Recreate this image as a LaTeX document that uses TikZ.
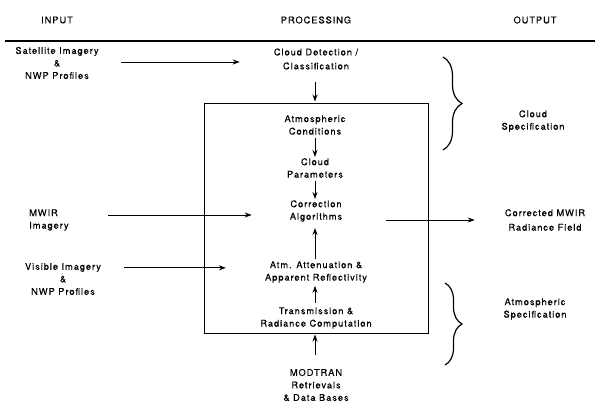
\documentclass[tikz,border=0pt]{standalone}
\usepackage{fontspec}
\setmainfont{TeX Gyre Heros}[LetterSpace=10,FakeBold=0.3]
\usetikzlibrary{arrows.meta,decorations.pathreplacing}
\begin{document}
\begin{tikzpicture}[x=1pt,y=-1pt,
  lbl/.style={align=center,inner sep=0pt,font=\fontsize{9.3}{12.5}\selectfont},
  arr/.style={-{Stealth[length=7pt,width=5pt]},line width=0.9pt},
  brc/.style={decorate,line width=1.2pt},
]
\useasboundingbox (0,0) rectangle (595,402);
% headers
\node[lbl] (hin) at (57,20) {INPUT};
\node[lbl] (hproc) at (316,20) {PROCESSING};
\node[lbl] (hout) at (535,20) {OUTPUT};
\coordinate (rl) at (5,41);
\coordinate (rr) at (595,41);
\draw[line width=1.1pt] (rl) -- (rr);
% input
\node[lbl] (sat) at (57,63) {Satellite Imagery\\\&\\NWP Profiles};
\node[lbl,align=left,anchor=west] (mwir) at (29,220) {MWIR\\Imagery};
\node[lbl] (vis) at (63,279) {Visible Imagery\\\&\\NWP Profiles};
% processing
\node[lbl] (cdc) at (316,59) {Cloud Detection /\\[1.5pt]Classification};
\node[draw,line width=1pt,minimum width=224pt,minimum height=230pt,inner sep=0pt] (box) at (316,218) {};
\node[lbl] (atm) at (315,125) {Atmospheric\\Conditions};
\node[lbl] (cp) at (315,168) {Cloud\\Parameters};
\node[lbl] (ca) at (316,211) {Correction\\Algorithms};
\node[lbl] (aa) at (316,272) {Atm. Attenuation \&\\Apparent Reflectivity};
\node[lbl] (tr) at (316,318) {Transmission \&\\Radiance Computation};
\node[lbl] (mod) at (316,385) {MODTRAN\\Retrievals\\\& Data Bases};
% output
\node[lbl] (cs) at (533,121) {Cloud\\Specification};
\node[lbl] (cm) at (545,220) {Corrected MWIR\\[2pt]Radiance Field};
\node[lbl] (as) at (535,309) {Atmospheric\\Specification};
% arrows
\draw[arr,shorten <=22pt,shorten >=34pt] ([yshift=1pt]sat.east) -- ([yshift=1pt]sat.east -| cdc.west);
\draw[arr,shorten <=12pt,shorten >=1pt] ([xshift=-1pt]cdc.south) -- ([xshift=-1pt]cdc.south |- box.north);
\draw[arr,shorten <=3pt,shorten >=1pt] (atm.south) -- (cp.north);
\draw[arr,shorten <=3pt,shorten >=1pt] (cp.south) -- (cp.south |- ca.north);
\draw[arr,shorten <=2pt,shorten >=6pt] ([xshift=-1pt]aa.north) -- ([xshift=-1pt]aa.north |- ca.south);
\draw[arr,shorten <=4pt,shorten >=3pt] ([xshift=-1pt]tr.north) -- ([xshift=-1pt]tr.north |- aa.south);
\draw[arr,shorten <=14pt,shorten >=1pt] ([xshift=-1pt]mod.north) -- ([xshift=-1pt]mod.north |- box.south);
\draw[arr,shorten <=39pt,shorten >=38pt] ([yshift=5pt]mwir.east) -- ([yshift=5pt]mwir.east -| ca.west);
\draw[arr,shorten <=23pt,shorten >=39pt] ([yshift=-5pt]vis.north east) -- ([yshift=-5pt]vis.north east -| aa.west);
\draw[arr,shorten <=44pt,shorten >=30pt] (ca.east |- cm.west) -- (cm.west);
% braces
\coordinate (b1t) at (443,57);
\coordinate (b1b) at (443,150);
\coordinate (b2t) at (445,283);
\coordinate (b2b) at (445,365);
\draw[brc,decoration={brace,amplitude=19pt}] (b1t) -- (b1b);
\draw[brc,decoration={brace,amplitude=17pt}] (b2t) -- (b2b);
\end{tikzpicture}
\end{document}
